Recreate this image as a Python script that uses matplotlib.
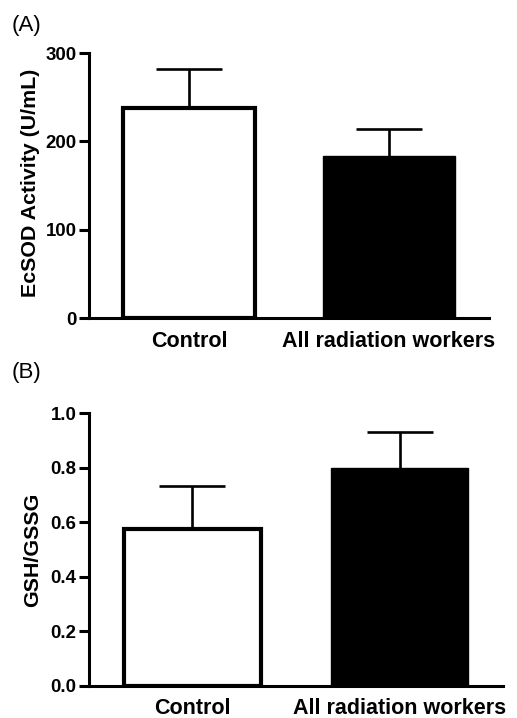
import numpy as np
import matplotlib.pyplot as plt

plt.rcParams['font.family'] = ['Liberation Sans', 'DejaVu Sans']

groups = ['Control', 'All radiation workers']
ecsod_mean = [238, 183]
ecsod_err = [44, 31]
gsh_mean = [0.575, 0.80]
gsh_err = [0.158, 0.13]

fig = plt.figure(figsize=(5.17, 7.18), dpi=100)
axA = fig.add_axes([0.172, 0.557, 0.774, 0.369])
axB = fig.add_axes([0.172, 0.0446, 0.801, 0.380])

def draw(ax, means, errs, ylabel, ylim, yticks, fmt, labelx, labely):
    x = np.arange(len(groups))
    # error bars: upper only
    bc = ax.bar(x, means, width=0.66, color=['white', 'black'], edgecolor='black',
                linewidth=[3.0, 1.0], zorder=2,
                yerr=[np.zeros(len(errs)), errs], capsize=24,
                error_kw=dict(elinewidth=1.9, capthick=1.9, ecolor='black', zorder=1))
    # hide the lower caps
    bc.errorbar.lines[1][0].set_visible(False)
    ax.set_xlim(-0.5, 1.5)
    ax.set_ylim(*ylim)
    ax.set_yticks(yticks)
    ax.set_yticklabels([fmt % v for v in yticks], fontsize=13.4, fontweight='bold')
    ax.set_xticks(x)
    ax.set_xticklabels(groups, fontsize=15.5, fontweight='bold')
    ax.tick_params(axis='x', length=0, pad=9)
    ax.tick_params(axis='y', length=7, width=2.2, pad=2)
    for s in ['top', 'right']:
        ax.spines[s].set_visible(False)
    for s in ['left', 'bottom']:
        ax.spines[s].set_linewidth(2.2)
    ax.set_ylabel(ylabel, fontsize=15.4, fontweight='bold')
    ax.yaxis.set_label_coords(labelx, labely)

draw(axA, ecsod_mean, ecsod_err, 'EcSOD Activity (U/mL)', (0, 300), [0, 100, 200, 300], '%d', -0.122, 0.51)
draw(axB, gsh_mean, gsh_err, 'GSH/GSSG', (0, 1.0), [0.0, 0.2, 0.4, 0.6, 0.8, 1.0], '%.1f', -0.113, 0.5)

fig.text(0.023, 0.965, '(A)', fontsize=16, va='center', ha='left')
fig.text(0.023, 0.481, '(B)', fontsize=16, va='center', ha='left')

fig.savefig('out.png', dpi=100)
